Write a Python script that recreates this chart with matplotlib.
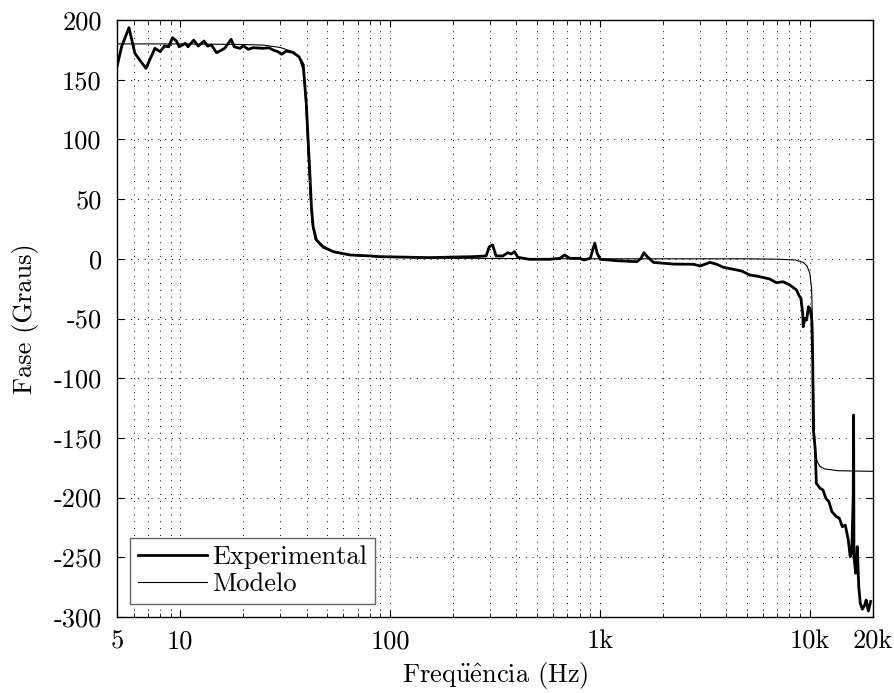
import matplotlib
matplotlib.use("Agg")
import matplotlib.pyplot as plt
import numpy as np

freq_exp = [5.0, 5.26, 5.70, 6.09, 6.87, 7.58, 8.03, 8.42, 8.81, 9.19, 9.6, 9.9,
            10.6, 10.9, 11.6, 12.2, 13.0, 13.5, 14.1, 14.9, 16.3, 17.5, 18.1, 19.3,
            20.0, 21.1, 22.3, 24.9, 26.5, 27.7, 29.2, 30.5, 32.0, 34.4, 36.8, 38.6,
            39.2, 40.0, 40.7, 41.5, 42.2, 43.0, 44.6, 48.0, 53.6, 64.6, 80.6,
            89.3, 154, 248, 287, 297, 308, 320, 345, 364, 378, 392, 406, 460,
            575, 645, 679, 718, 805, 836, 900, 928, 945, 970, 1005, 1207, 1500,
            1570, 1620, 1680, 1800, 2240, 2800, 3000, 3350, 3600, 3870, 4320,
            4730, 5180, 5570, 6440, 6930, 7460, 8030, 8640, 8900, 9070, 9250,
            9300, 9480, 9660, 9850, 10030, 10220, 10330, 10400, 10620, 10740,
            11180, 11550, 11930, 12330, 12740, 13390, 13830, 14290, 14760,
            15250, 15580, 15850, 16100, 16170, 16230, 16550, 16830, 17110,
            17400, 17800, 18270, 18560, 19000, 19500]
phase_exp = [160.9, 177.6, 193.6, 172.0, 159.5, 176.3, 173.5, 178.2, 177.6, 185.2,
             182.4, 177.6, 180.5, 177.6, 183.2, 178.2, 182.4, 178.2, 179.1, 172.6,
             176.3, 183.8, 177.6, 176.3, 178.5, 175.5, 176.8, 176.3, 176.8, 174.9,
             173.5, 171.3, 174.0, 172.9, 169.3, 162.3, 147.0, 127.4, 99.5, 71.6,
             43.7, 26.9, 15.8, 10.1, 6.0, 3.2, 2.4, 1.8, 1.0, 1.8, 2.4, 10.1,
             11.6, 2.4, 2.4, 5.1, 4.0, 6.0, 1.3, -0.4, -0.4, 0.4, 3.2, 0.4, 0.4,
             -1.0, 0.4, 8.8, 13.2, 4.6, -0.4, -1.6, -2.4, 0.4, 5.1, 1.8, -3.0,
             -4.4, -4.6, -6.0, -3.0, -4.6, -7.1, -8.8, -10.2, -13.6, -14.4,
             -16.9, -20.0, -19.2, -21.9, -26.1, -31.0, -33.0, -45.6, -56.9, -49.8,
             -51.3, -40.1, -41.5, -51.3, -87.5, -143.4, -160.1, -188.0, -192.2,
             -193.6, -200.6, -203.4, -211.8, -216.0, -217.3, -224.4, -223.0,
             -235.5, -249.5, -245.3, -200.0, -130.8, -249.5, -263.4, -241.1,
             -274.6, -288.5, -293.5, -290.0, -285.8, -295.0, -287.0]

# model phase
freq_mod = [5.0, 10, 20, 25, 30, 35, 37, 38.5, 39.5, 40.5, 41.5, 42.5, 44,
            48, 55, 65, 80, 120, 200, 400, 1000, 3000, 5000, 7000, 8500, 9300,
            9700, 10000, 10200, 10330, 10400, 10500, 10600, 10850, 11200, 11800,
            13600, 20000]
phase_mod = [180, 180, 179.5, 179, 177, 173, 168, 158, 135, 95, 55, 30, 16,
             9, 5, 3, 2, 1, 0.5, 0.2, 0, 0, 0, -0.3, -1, -3, -6, -12, -25, -60,
             -100, -140, -160, -170, -174, -176, -177.5, -178]

xticks = [5, 10, 100, 1000, 10000, 20000]
xticklabels = ["5", "10", "100", "1k", "10k", "20k"]
yticks = [-300, -250, -200, -150, -100, -50, 0, 50, 100, 150, 200]

plt.rcParams['font.family'] = ['cmr10', 'DejaVu Serif']
plt.rcParams['mathtext.fontset'] = 'cm'
plt.rcParams['axes.unicode_minus'] = False
plt.rcParams['font.size'] = 19

fig = plt.figure(figsize=(8.95, 6.93), dpi=100)
ax = fig.add_axes([0.1307, 0.1097, 0.8447, 0.8614])

ax.semilogx(freq_exp, phase_exp, color='black', lw=2.0, label='Experimental')
ax.semilogx(freq_mod, phase_mod, color='black', lw=0.8, label='Modelo')

ax.set_xlim(5, 20000)
ax.set_ylim(-300, 200)
ax.set_xticks(xticks)
ax.set_xticklabels(xticklabels)
ax.set_yticks(yticks)
ax.set_yticklabels([str(v) for v in yticks])
ax.xaxis.set_minor_formatter(matplotlib.ticker.NullFormatter())

ax.tick_params(which='both', direction='in', top=True, right=True)
ax.tick_params(which='major', length=5, width=0.8)
ax.tick_params(axis='y', which='major', pad=11)
ax.tick_params(axis='x', which='major', pad=9)
ax.tick_params(which='minor', length=3, width=0.6)

ax.grid(True, which='major', axis='both', ls=(0, (1, 6)), color='black', lw=0.7)
ax.grid(True, which='minor', axis='x', ls=(0, (1, 6)), color='black', lw=0.7)

for s in ax.spines.values():
    s.set_linewidth(1.0)

ax.set_xlabel(r'Freq$\ddot{\mathrm{u}}\hat{\mathrm{e}}$ncia (Hz)', labelpad=5)
ax.set_ylabel('Fase (Graus)', labelpad=10)

leg = ax.legend(loc='lower left', fancybox=False, framealpha=1, edgecolor='0.4',
                borderaxespad=0.5, handlelength=2.6, handletextpad=0.2,
                borderpad=0.3, labelspacing=0.1)
leg.get_frame().set_linewidth(1.0)

fig.savefig('out.png', dpi=100)
